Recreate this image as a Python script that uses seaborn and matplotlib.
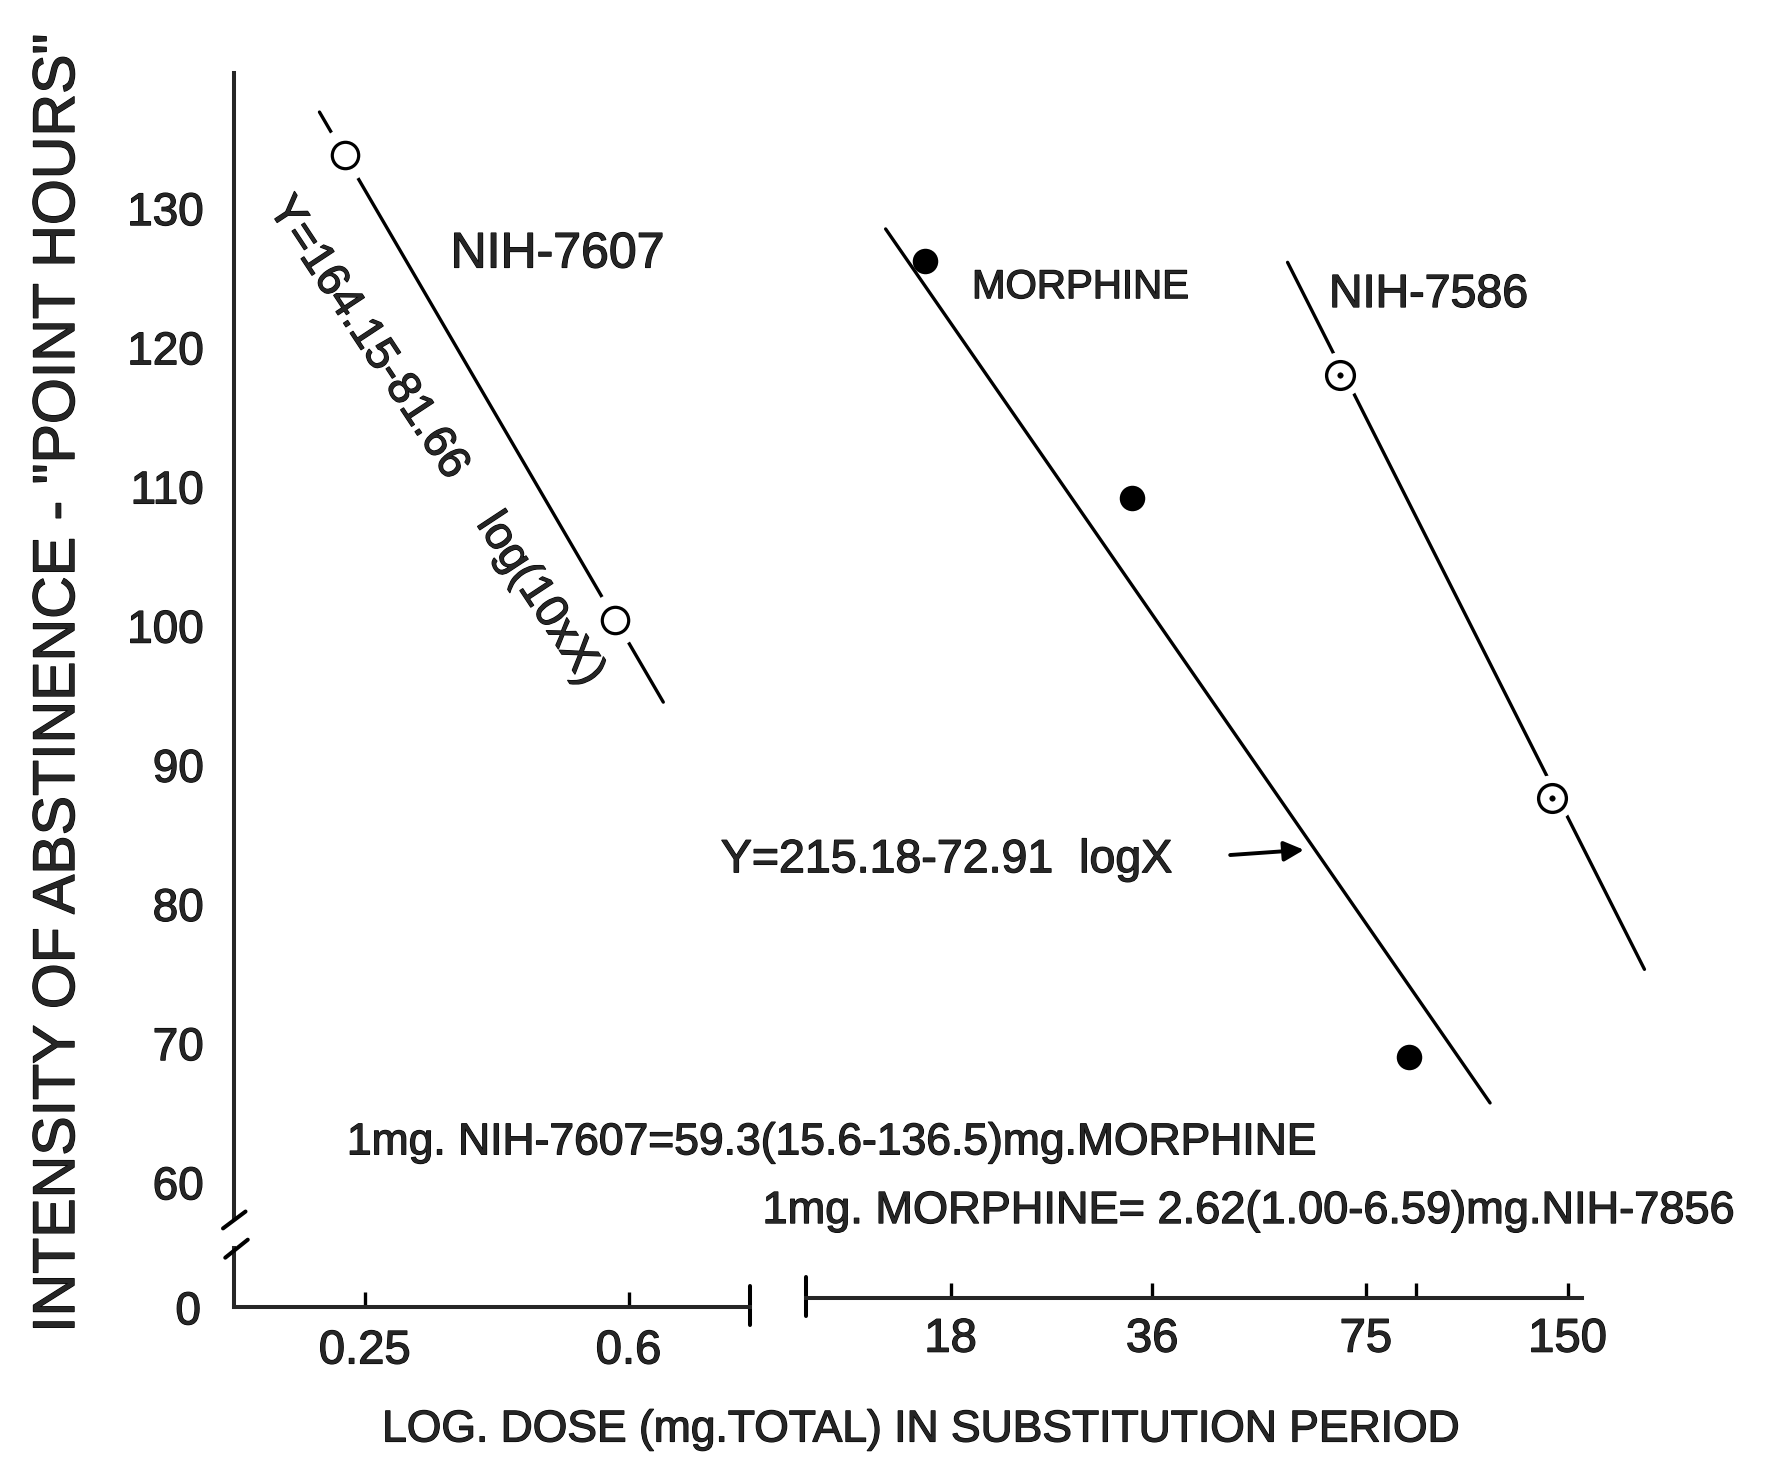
import matplotlib
matplotlib.use("Agg")
import matplotlib.pyplot as plt
import matplotlib.patheffects as pe
from matplotlib.lines import Line2D
from matplotlib.ticker import NullLocator, FixedLocator, FixedFormatter
import seaborn as sns

# values (dose in mg total, intensity in "point hours")
nih7607_dose = [0.234, 0.573]
nih7607_score = [133.8, 100.4]
nih7607_fit_dose = [0.215, 0.673]
nih7607_fit_score = [136.9, 94.5]

morphine_dose = [16.5, 33.6, 87.0]
morphine_score = [126.2, 109.2, 69.0]
morphine_fit_dose = [14.4, 114.9]
morphine_fit_score = [128.5, 65.7]

nih7586_dose = [68.7, 142.2]
nih7586_score = [118.0, 87.6]
nih7586_fit_dose = [57.3, 195.3]
nih7586_fit_score = [126.1, 75.3]

y_ticks = [60, 70, 80, 90, 100, 110, 120, 130]
left_x_ticks = [0.25, 0.6]
left_x_labels = ["0.25", "0.6"]
right_x_ticks = [18, 36, 75, 89, 150]
right_x_labels = ["18", "36", "75", "", "150"]

sns.set_style("white")
plt.rcParams["font.family"] = ["Liberation Sans", "DejaVu Sans"]

W, H = 1568, 1310  # layout grid (reference pixels)


def box(x0, y0, x1, y1):
    return [x0 / W, 1 - y1 / H, (x1 - x0) / W, (y1 - y0) / H]


def fx(x):
    return x / W


def fy(y):
    return 1 - y / H


def log_lim(x0, x1, ref_px, ref_val, ppd):
    return (ref_val * 10 ** ((x0 - ref_px) / ppd), ref_val * 10 ** ((x1 - ref_px) / ppd))


def lin_lim(y0, y1, ref_px, ref_val, ppu):
    # y0 = bottom pixel, y1 = top pixel
    return (ref_val + (ref_px - y0) / ppu, ref_val + (ref_px - y1) / ppu)


fig = plt.figure(figsize=(17.66, 14.75), dpi=100)

AX_LW = 2.9
LINE_LW = 2.4
heavy = [pe.withStroke(linewidth=0.9, foreground="black")]

top, bottom = 65, 1082
ylim_top = lin_lim(bottom, top, 1050, 60, 12.36)

ax_tl = fig.add_axes(box(208, top, 690, bottom))
ax_tr = fig.add_axes(box(690, top, 1520, bottom))
ax_bl = fig.add_axes(box(208, 1108, 666, 1161))
ax_br = fig.add_axes(box(716, 1100, 1405, 1153))

left_scale = (324, 0.25, 616)
right_scale = (844, 18, 595)

for ax in (ax_tl, ax_tr, ax_bl, ax_br):
    ax.set_xscale("log")
    ax.patch.set_alpha(0)
    for s in ax.spines.values():
        s.set_visible(False)
    ax.xaxis.set_minor_locator(NullLocator())

ax_tl.set_xlim(*log_lim(208, 690, *left_scale))
ax_bl.set_xlim(*log_lim(208, 666, *left_scale))
ax_tr.set_xlim(*log_lim(690, 1520, *right_scale))
ax_br.set_xlim(*log_lim(716, 1405, *right_scale))
ax_tl.set_ylim(*ylim_top)
ax_tr.set_ylim(*ylim_top)
ax_bl.set_ylim(0, 4)
ax_br.set_ylim(0, 4)

# y axis (upper part)
ax_tl.spines["left"].set_visible(True)
ax_tl.spines["left"].set_linewidth(AX_LW)
ax_tl.set_yticks(y_ticks)
ax_tl.set_yticklabels([str(v) for v in y_ticks])
ax_tl.tick_params(axis="y", left=False, length=0, pad=22, labelsize=33)
ax_tl.set_xticks([])
ax_tr.set_xticks([])
ax_tr.set_yticks([])

# lower stub with zero and the left x axis
ax_bl.spines["left"].set_visible(True)
ax_bl.spines["bottom"].set_visible(True)
ax_bl.spines["left"].set_linewidth(AX_LW)
ax_bl.spines["bottom"].set_linewidth(AX_LW)
ax_bl.set_yticks([0])
ax_bl.set_yticklabels(["0"])
ax_bl.tick_params(axis="y", left=False, length=0, pad=24, labelsize=33)
ax_bl.xaxis.set_major_locator(FixedLocator(left_x_ticks))
ax_bl.xaxis.set_major_formatter(FixedFormatter(left_x_labels))
ax_bl.tick_params(axis="x", bottom=True, direction="in", length=11, width=2.4, pad=16,
                  labelsize=34, color="black")
ax_bl.plot([1, 1], [-0.3, 0.35], color="black", lw=AX_LW, transform=ax_bl.transAxes, clip_on=False)

ax_br.spines["bottom"].set_visible(True)
ax_br.spines["bottom"].set_linewidth(AX_LW)
ax_br.set_yticks([])
ax_br.xaxis.set_major_locator(FixedLocator(right_x_ticks))
ax_br.xaxis.set_major_formatter(FixedFormatter(right_x_labels))
ax_br.tick_params(axis="x", bottom=True, direction="in", length=11, width=2.4, pad=14,
                  labelsize=34, color="black")
ax_br.plot([0, 0], [-0.3, 0.35], color="black", lw=AX_LW, transform=ax_br.transAxes, clip_on=False)

# axis break marks
fig.add_artist(Line2D([fx(218), fx(198)], [fy(1076), fy(1091)], color="black", lw=AX_LW))
fig.add_artist(Line2D([fx(220), fx(200)], [fy(1101), fy(1117)], color="black", lw=AX_LW))

# NIH-7607
sns.lineplot(x=nih7607_fit_dose, y=nih7607_fit_score, ax=ax_tl, color="black", lw=LINE_LW, zorder=2)
sns.scatterplot(x=nih7607_dose, y=nih7607_score, ax=ax_tl, s=38 ** 2, color="white", edgecolor="none", zorder=3)
sns.scatterplot(x=nih7607_dose, y=nih7607_score, ax=ax_tl, s=19 ** 2, color="white",
                edgecolor="black", linewidth=2.3, zorder=4)

# morphine
sns.lineplot(x=morphine_fit_dose, y=morphine_fit_score, ax=ax_tr, color="black", lw=LINE_LW, zorder=2)
sns.scatterplot(x=morphine_dose, y=morphine_score, ax=ax_tr, s=17 ** 2, color="black",
                edgecolor="black", zorder=4)

# NIH-7586
sns.lineplot(x=nih7586_fit_dose, y=nih7586_fit_score, ax=ax_tr, color="black", lw=LINE_LW, zorder=2)
sns.scatterplot(x=nih7586_dose, y=nih7586_score, ax=ax_tr, s=33 ** 2, color="white", edgecolor="none", zorder=3)
sns.scatterplot(x=nih7586_dose, y=nih7586_score, ax=ax_tr, s=20 ** 2, color="white",
                edgecolor="black", linewidth=2.4, zorder=4)
sns.scatterplot(x=nih7586_dose, y=nih7586_score, ax=ax_tr, s=4 ** 2, color="black",
                edgecolor="black", zorder=5)

# labels and equations
texts = [
    fig.text(fx(400), fy(226), "NIH-7607", fontsize=36, ha="left", va="center"),
    fig.text(fx(863), fy(255), "MORPHINE", fontsize=29, ha="left", va="center"),
    fig.text(fx(1180), fy(262), "NIH-7586", fontsize=33.5, ha="left", va="center"),
    fig.text(fx(387), fy(392), "Y=164.15-81.66    log(10xX)", fontsize=33, rotation=-56.6,
             rotation_mode="anchor", ha="center", va="center"),
    fig.text(fx(640), fy(764), "Y=215.18-72.91  logX", fontsize=33.5, ha="left", va="center"),
    fig.text(fx(308), fy(1015), "1mg. NIH-7607=59.3(15.6-136.5)mg.MORPHINE", fontsize=32,
             ha="left", va="center"),
    fig.text(fx(677), fy(1076), "1mg. MORPHINE= 2.62(1.00-6.59)mg.NIH-7856", fontsize=32.5,
             ha="left", va="center"),
    fig.text(fx(52), fy(607), 'INTENSITY OF ABSTINENCE - "POINT HOURS"', fontsize=42.5, rotation=90,
             ha="center", va="center"),
    fig.text(fx(818), fy(1270), "LOG. DOSE (mg.TOTAL) IN SUBSTITUTION PERIOD", fontsize=32,
             ha="center", va="center"),
]
ax_tr.annotate("", xy=(61.2, 83.9), xytext=(46.6, 83.5),
               arrowprops=dict(arrowstyle="-|>", color="black", lw=2.8, mutation_scale=30))

for ax in (ax_tl, ax_bl, ax_br):
    texts += ax.get_xticklabels() + ax.get_yticklabels()
for t in texts:
    t.set_path_effects(heavy)

fig.savefig("out.png", dpi=100)
